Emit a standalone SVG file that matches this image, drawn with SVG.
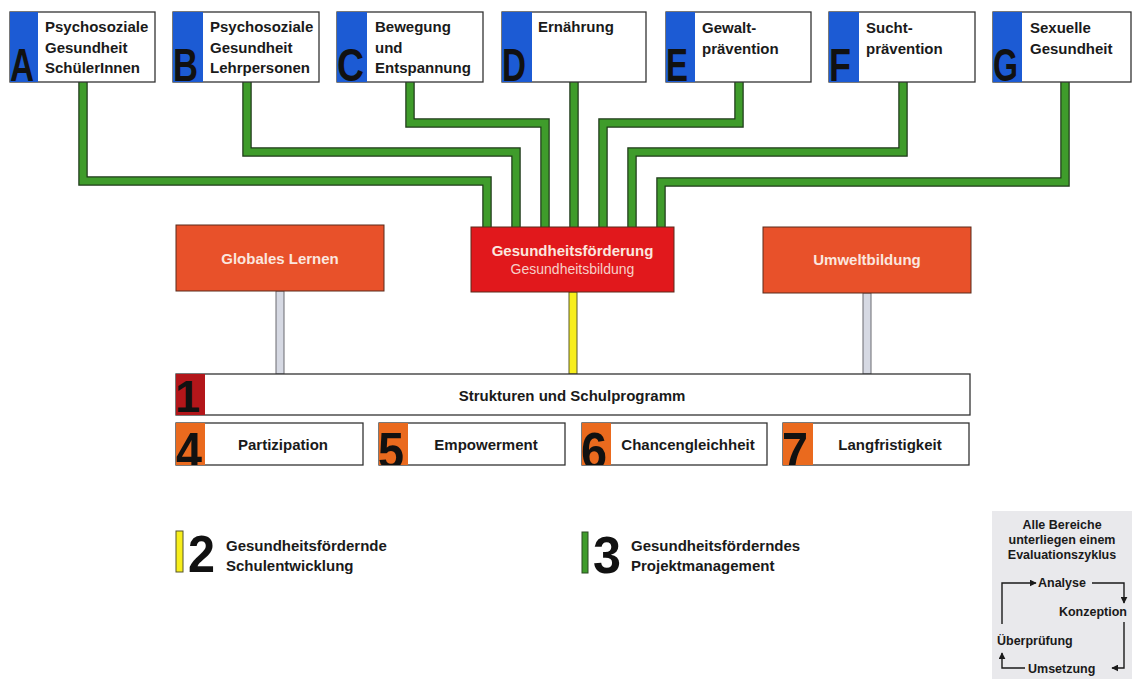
<svg xmlns="http://www.w3.org/2000/svg" xmlns:xlink="http://www.w3.org/1999/xlink" width="1132" height="679" viewBox="0 0 1132 679">
<style>
.box{fill:#fff;stroke:#333;stroke-width:1.3}
.blue{fill:#1c5bd4}
.orange{fill:#ea6a1e}
.dred{fill:#b3161a}
.big{font-family:"Liberation Sans",Arial,sans-serif;font-weight:bold;fill:#111}
.t{font-family:"Liberation Sans",Arial,sans-serif;font-weight:bold;font-size:15px;fill:#1a1a1a}
.tc{text-anchor:middle}
.gout{fill:none;stroke:#1e3a18;stroke-width:9.5;stroke-linejoin:miter}
.gin{fill:none;stroke:#3f9c2b;stroke-width:7;stroke-linejoin:miter}
.rbox{stroke:#5a2a1a;stroke-width:1}
.wt{font-family:"Liberation Sans",Arial,sans-serif;font-weight:bold;font-size:15px;fill:#fbe6df;text-anchor:middle}
.ev{font-family:"Liberation Sans",Arial,sans-serif;font-weight:bold;font-size:12.5px;fill:#1a1a1a}
.al{fill:none;stroke:#1a1a1a;stroke-width:1.4}
</style>
<defs>
<marker id="ah" viewBox="0 0 10 10" refX="9" refY="5" markerWidth="7" markerHeight="7" markerUnits="userSpaceOnUse" orient="auto"><path d="M0,0 L10,5 L0,10 z" fill="#1a1a1a"/></marker>
<clipPath id="cA"><rect x="10" y="12" width="28" height="70"/></clipPath>
<clipPath id="cB"><rect x="173" y="12" width="30" height="70"/></clipPath>
<clipPath id="cC"><rect x="337" y="12" width="30" height="70"/></clipPath>
<clipPath id="cD"><rect x="502" y="12" width="30" height="70"/></clipPath>
<clipPath id="cE"><rect x="666" y="12" width="29" height="70"/></clipPath>
<clipPath id="cF"><rect x="829" y="12" width="30" height="70"/></clipPath>
<clipPath id="cG"><rect x="993" y="12" width="29" height="70"/></clipPath>
<clipPath id="c1"><rect x="176" y="374" width="29" height="41"/></clipPath>
<clipPath id="c4"><rect x="176" y="423" width="29" height="42"/></clipPath>
<clipPath id="c5"><rect x="379" y="423" width="29" height="42"/></clipPath>
<clipPath id="c6"><rect x="582" y="423" width="29" height="42"/></clipPath>
<clipPath id="c7"><rect x="783" y="423" width="30" height="42"/></clipPath>
<path id="pA" d="M83,82 V181 H487 V227"/>
<path id="pB" d="M247,82 V152 H516 V227"/>
<path id="pC" d="M410,82 V123 H545 V227"/>
<path id="pD" d="M574,82 V227"/>
<path id="pE" d="M739,82 V123 H603 V227"/>
<path id="pF" d="M903,82 V152 H632 V227"/>
<path id="pG" d="M1065,82 V182 H661 V227"/>
</defs>
<rect width="1132" height="679" fill="#fff"/>

<g id="connectors">
<use xlink:href="#pA" class="gout"/><use xlink:href="#pB" class="gout"/><use xlink:href="#pC" class="gout"/><use xlink:href="#pD" class="gout"/><use xlink:href="#pE" class="gout"/><use xlink:href="#pF" class="gout"/><use xlink:href="#pG" class="gout"/>
<use xlink:href="#pA" class="gin"/><use xlink:href="#pB" class="gin"/><use xlink:href="#pC" class="gin"/><use xlink:href="#pD" class="gin"/><use xlink:href="#pE" class="gin"/><use xlink:href="#pF" class="gin"/><use xlink:href="#pG" class="gin"/>
<rect x="276" y="291" width="8" height="83" fill="#d6d9e3" stroke="#6a6a70" stroke-width="1"/>
<rect x="863" y="293" width="8" height="81" fill="#d6d9e3" stroke="#6a6a70" stroke-width="1"/>
<rect x="569" y="292" width="8" height="82" fill="#f7ee1c" stroke="#5a5a2a" stroke-width="1"/>
</g>

<g id="nodeA"><rect class="box" x="10" y="12" width="145" height="70"/><rect class="blue" x="10" y="12" width="28" height="70"/><text class="big" clip-path="url(#cA)" x="10" y="81" font-size="47" textLength="24" lengthAdjust="spacingAndGlyphs">A</text>
<text class="t" x="45" y="32">Psychosoziale</text><text class="t" x="45" y="52.5">Gesundheit</text><text class="t" x="45" y="73">SchülerInnen</text></g>
<g id="nodeB"><rect class="box" x="173" y="12" width="146" height="70"/><rect class="blue" x="173" y="12" width="30" height="70"/><text class="big" clip-path="url(#cB)" x="173" y="81" font-size="47" textLength="25" lengthAdjust="spacingAndGlyphs">B</text>
<text class="t" x="210" y="32">Psychosoziale</text><text class="t" x="210" y="52.5">Gesundheit</text><text class="t" x="210" y="73">Lehrpersonen</text></g>
<g id="nodeC"><rect class="box" x="337" y="12" width="146" height="70"/><rect class="blue" x="337" y="12" width="30" height="70"/><text class="big" clip-path="url(#cC)" x="337" y="81" font-size="47" textLength="27" lengthAdjust="spacingAndGlyphs">C</text>
<text class="t" x="375" y="32">Bewegung</text><text class="t" x="375" y="52.5">und</text><text class="t" x="375" y="73">Entspannung</text></g>
<g id="nodeD"><rect class="box" x="502" y="12" width="144" height="70"/><rect class="blue" x="502" y="12" width="30" height="70"/><text class="big" clip-path="url(#cD)" x="502" y="81" font-size="47" textLength="24" lengthAdjust="spacingAndGlyphs">D</text>
<text class="t" x="538" y="32">Ernährung</text></g>
<g id="nodeE"><rect class="box" x="666" y="12" width="145" height="70"/><rect class="blue" x="666" y="12" width="29" height="70"/><text class="big" clip-path="url(#cE)" x="666" y="81" font-size="47" textLength="22" lengthAdjust="spacingAndGlyphs">E</text>
<text class="t" x="702" y="33">Gewalt-</text><text class="t" x="702" y="54">prävention</text></g>
<g id="nodeF"><rect class="box" x="829" y="12" width="146" height="70"/><rect class="blue" x="829" y="12" width="30" height="70"/><text class="big" clip-path="url(#cF)" x="829" y="81" font-size="47" textLength="22" lengthAdjust="spacingAndGlyphs">F</text>
<text class="t" x="866" y="33">Sucht-</text><text class="t" x="866" y="54">prävention</text></g>
<g id="nodeG"><rect class="box" x="993" y="12" width="138" height="70"/><rect class="blue" x="993" y="12" width="29" height="70"/><text class="big" clip-path="url(#cG)" x="993" y="81" font-size="47" textLength="25" lengthAdjust="spacingAndGlyphs">G</text>
<text class="t" x="1030" y="33">Sexuelle</text><text class="t" x="1030" y="54">Gesundheit</text></g>

<g id="globales"><rect class="rbox" x="176" y="225" width="208" height="66" fill="#e8512a"/><text class="wt" x="280" y="264">Globales Lernen</text></g>
<g id="gesundheit"><rect class="rbox" x="471" y="227" width="203" height="65" fill="#e1181c"/><text class="wt" x="572.5" y="256" fill="#fff">Gesundheitsförderung</text><text x="572.5" y="274" text-anchor="middle" font-family="Liberation Sans, Arial, sans-serif" font-size="14" fill="#f6cfc8">Gesundheitsbildung</text></g>
<g id="umwelt"><rect class="rbox" x="763" y="227" width="208" height="66" fill="#e8512a"/><text class="wt" x="867" y="265">Umweltbildung</text></g>

<g id="node1"><rect class="box" x="176" y="374" width="794" height="41"/><rect class="dred" x="176" y="374" width="29" height="41"/><text class="big" clip-path="url(#c1)" x="175" y="412" font-size="45">1</text>
<text class="t tc" x="572" y="401">Strukturen und Schulprogramm</text></g>
<g id="node4"><rect class="box" x="176" y="423" width="187" height="42"/><rect class="orange" x="176" y="423" width="29" height="42"/><text class="big" clip-path="url(#c4)" x="176" y="469" font-size="52" textLength="26" lengthAdjust="spacingAndGlyphs">4</text>
<text class="t tc" x="283" y="450">Partizipation</text></g>
<g id="node5"><rect class="box" x="379" y="423" width="186" height="42"/><rect class="orange" x="379" y="423" width="29" height="42"/><text class="big" clip-path="url(#c5)" x="378" y="469" font-size="52" textLength="26" lengthAdjust="spacingAndGlyphs">5</text>
<text class="t tc" x="486" y="450">Empowerment</text></g>
<g id="node6"><rect class="box" x="582" y="423" width="185" height="42"/><rect class="orange" x="582" y="423" width="29" height="42"/><text class="big" clip-path="url(#c6)" x="581" y="469" font-size="52" textLength="26" lengthAdjust="spacingAndGlyphs">6</text>
<text class="t tc" x="688" y="450">Chancengleichheit</text></g>
<g id="node7"><rect class="box" x="783" y="423" width="186" height="42"/><rect class="orange" x="783" y="423" width="30" height="42"/><text class="big" clip-path="url(#c7)" x="782" y="469" font-size="52" textLength="26" lengthAdjust="spacingAndGlyphs">7</text>
<text class="t tc" x="890" y="450">Langfristigkeit</text></g>

<g id="legend2"><rect x="176" y="531" width="7" height="41" fill="#f7ee1c" stroke="#55552a" stroke-width="1"/><text class="big" x="188" y="572" font-size="52" textLength="27" lengthAdjust="spacingAndGlyphs">2</text>
<text class="t" x="226" y="551">Gesundheitsfördernde</text><text class="t" x="226" y="571">Schulentwicklung</text></g>
<g id="legend3"><rect x="582" y="532" width="6" height="41" fill="#3f9c2b" stroke="#2a4a22" stroke-width="1"/><text class="big" x="593" y="573" font-size="52" textLength="28" lengthAdjust="spacingAndGlyphs">3</text>
<text class="t" x="631" y="551">Gesundheitsförderndes</text><text class="t" x="631" y="571">Projektmanagement</text></g>

<g id="evaluation"><rect x="992" y="511" width="140" height="168" fill="#e9e9ec"/>
<text class="ev" x="1062" y="529" text-anchor="middle">Alle Bereiche</text>
<text class="ev" x="1062" y="544" text-anchor="middle">unterliegen einem</text>
<text class="ev" x="1062" y="559" text-anchor="middle">Evaluationszyklus</text>
<text class="ev" x="1038" y="587">Analyse</text>
<text class="ev" x="1127" y="616" text-anchor="end">Konzeption</text>
<text class="ev" x="997" y="645">Überprüfung</text>
<text class="ev" x="1028" y="673">Umsetzung</text>
<path class="al" d="M1002,624 V583 H1036" marker-end="url(#ah)"/>
<path class="al" d="M1092,583 H1124 V603" marker-end="url(#ah)"/>
<path class="al" d="M1124,622 V668 H1112" marker-end="url(#ah)"/>
<path class="al" d="M1025,668 H1002 V653" marker-end="url(#ah)"/>
</g>
</svg>
